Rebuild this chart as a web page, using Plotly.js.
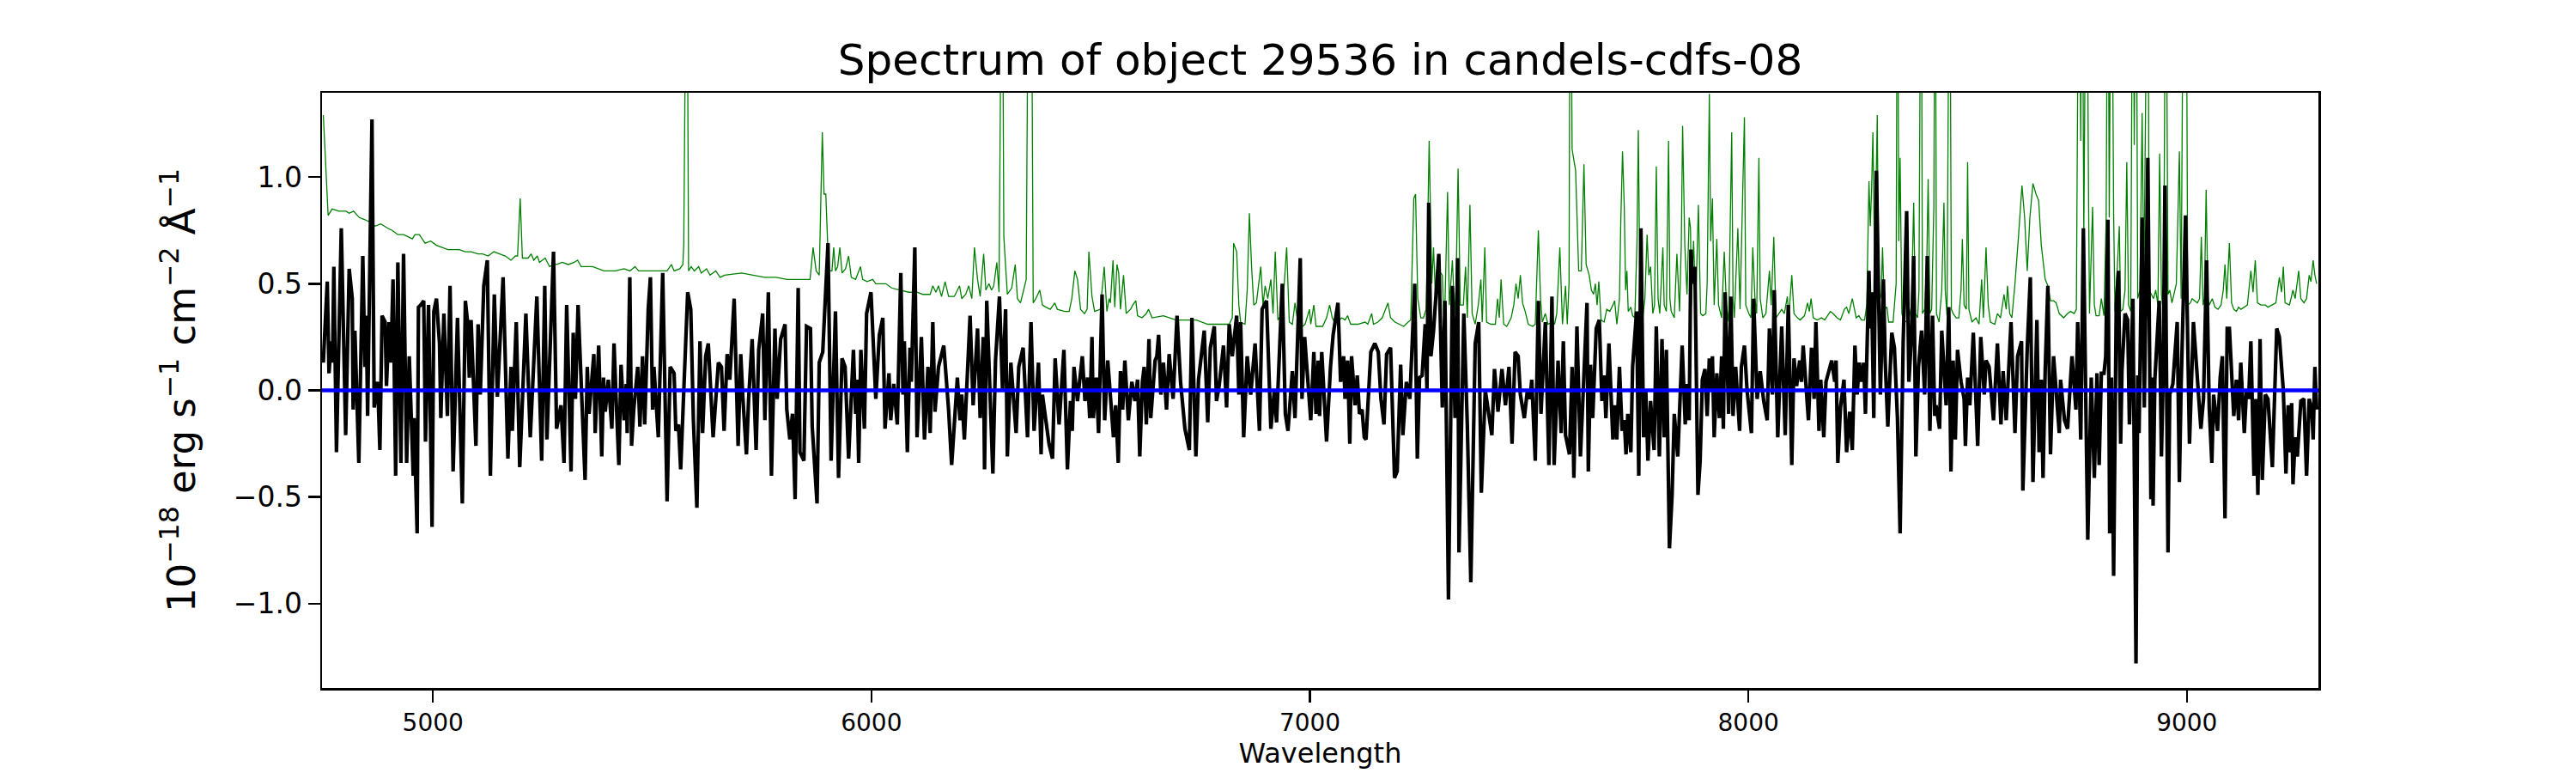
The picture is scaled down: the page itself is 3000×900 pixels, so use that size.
<!DOCTYPE html>
<html>
<head>
<meta charset="utf-8">
<script src="https://cdn.plot.ly/plotly-3.0.1.min.js"></script>
<style>html,body{margin:0;padding:0;background:#fff;}#chart{width:3000px;height:900px;}</style>
</head>
<body>
<div id="chart"></div>
<script>
// Spectrum (black) — wavelength in Angstrom, flux in 1e-18 erg/s/cm2/A
const wavelength = [
4750,4759,4763,4768,4771,4774,4780,4785,4791,4801,4809,4816,4818,4822,4831,4840,4845,4848,4851,4861,4866,4874,4879,4884,4891,4894,4900,4904,4909,4915,4920,4927,4933,4940,4946,4955,4957,4964,4967,4972,4979,4983,4990,4998,5002,5008,5015,5018,5025,5033,5039,5046,5056,5067,5074,5079,5083,5087,5098,5103,5108,5116,5124,5131,5140,5147,5160,5171,5178,5181,5190,5198,5207,5212,5222,5230,5237,5248,5255,5260,5266,5275,5282,5292,5299,5305,5315,5320,5325,5331,
5347,5352,5356,5367,5370,5378,5385,5389,5393,5400,5408,5413,5417,5424,5429,5436,5441,5443,5449,5453,5458,5467,5472,5478,5483,5491,5496,5501,5504,5514,5524,5534,5541,5550,5554,5560,5565,5573,5581,5588,5594,5602,5609,5615,5622,5628,5639,5651,5658,5664,5671,5677,5687,5696,5702,5707,5715,5720,5728,5737,5743,5752,5757,5765,5772,5780,5785,5793,5803,5807,5814,5820,5826,5833,5837,5846,5852,5861,5865,5876,5881,5889,5901,5908,
5918,5925,5933,5940,5948,5953,5959,5964,5967,5971,5976,5984,5989,5999,6010,6018,6026,6031,6040,6044,6051,6059,6067,6072,6075,6082,6088,6091,6099,6104,6114,6121,6129,6134,6140,6145,6153,6165,6176,6183,6189,6196,6202,6206,6212,6225,6232,6242,6248,6255,6258,6263,6277,6283,6292,6299,6306,6310,6318,6330,6336,6346,6356,6364,6371,6381,6387,6390,6405,6413,6419,6428,6439,6447,6454,6458,6462,6470,6481,6487,
6493,6498,6503,6506,6513,6518,6526,6532,6539,6545,6552,6557,6563,6568,6573,6578,6586,6594,6601,6607,6612,6618,6622,6627,6633,6637,6647,6651,6655,6660,6666,6673,6679,6688,6697,6705,6715,6725,6731,6740,6746,6759,6767,6773,6782,6787,6793,6803,6810,6816,6823,6833,6838,6842,6849,6857,6865,6875,6885,6891,6901,6911,6919,6924,6937,6944,6950,6960,6966,6978,6982,6988,7002,7009,7014,7019,7022,7027,7038,7047,7053,7064,
7070,7077,7080,7086,7091,7095,7103,7108,7113,7119,7124,7128,7139,7148,7156,7162,7169,7175,7184,7193,7199,7207,7212,7220,7228,7239,7245,7250,7256,7263,7267,7271,7276,7282,7294,7302,7308,7316,7325,7331,7337,7340,7351,7359,7367,7377,7385,7391,7400,7415,7421,7429,7438,7446,7454,7461,7468,7475,7480,7489,7496,7502,7506,7514,7521,7527,7537,7545,7552,7557,7566,7573,7578,7583,7592,7598,7602,7609,7617,7632,7635,7640,
7645,7653,7660,7666,7671,7675,7682,7691,7695,7700,7706,7712,7717,7721,7725,7732,7736,7745,7750,7755,7761,7766,7771,7777,7785,7790,7797,7803,7808,7813,7820,7826,7831,7839,7849,7856,7860,7865,7869,7873,7878,7885,7890,7895,7901,7906,7911,7914,7918,7922,7928,7934,7939,7943,7947,7955,7960,7965,7971,7980,7984,7991,7997,8007,8012,8020,8027,8035,8043,8048,8055,8059,8067,8076,8084,8091,8099,8104,8110,8117,8121,8125,8137,8144,8150,8154,8161,8165,8172,8177,8190,8197,8200,8204,8210,8218,
8224,8231,8237,8243,8248,8253,8258,8263,8267,8275,8278,8281,8286,8292,8301,8308,8312,8318,8327,8333,8340,8346,8353,8361,8366,8372,8377,8382,8388,8395,8402,8408,8414,8420,8425,8428,8436,8441,8451,8457,8462,8467,8472,8477,8485,8492,8495,8500,8505,8513,8523,8530,8538,8542,8549,8559,8568,8576,8581,8588,8599,8608,8614,8623,8626,8636,8643,8649,8658,8663,8668,8672,8677,8683,8689,8696,8702,8709,8712,8721,8728,8738,8747,
8751,8758,8764,8774,8782,8789,8795,8800,8805,8811,8815,8820,8824,8828,8833,8839,8844,8849,8852,8859,8865,8869,8877,8884,8888,8891,8898,8903,8911,8918,8921,8923,8927,8937,8942,8946,8950,8957,8961,8968,8978,8983,8987,8997,9006,9015,9024,9032,9038,9045,9051,9057,9061,9070,9076,9081,9087,9092,9097,9107,9113,9118,9123,9131,9136,9141,9146,9153,9157,9162,9167,9172,9179,9185,9195,9205,9211,9220,9226,9231,9236,9239,9242,9247,9252,9260,9267,9273,9279,9285,9288,9292,9296
];
const flux = [
0.13,0.51,0.08,0.23,0.13,0.58,-0.29,0.18,0.76,-0.21,0.57,0.43,-0.09,0.28,-0.34,0.63,0.11,0.35,-0.12,1.27,-0.08,0.04,-0.28,0.35,0.32,0.02,0.32,0.13,0.52,-0.40,0.60,-0.34,0.64,-0.34,0.16,-0.40,-0.13,-0.67,0.39,0.40,0.42,-0.24,0.40,-0.64,0.37,0.43,0.22,-0.13,0.36,-0.12,0.49,-0.38,0.34,-0.53,0.42,0.32,0.06,0.33,-0.26,0.31,-0.02,0.49,0.61,-0.40,0.45,-0.03,0.53,-0.32,0.11,-0.19,0.32,-0.36,0.16,0.36,-0.22,0.14,0.44,-0.33,0.49,-0.23,0.11,0.65,-0.18,-0.07,-0.34,0.40,-0.38,0.27,-0.04,0.40,
-0.42,0.11,-0.11,0.17,-0.20,0.21,-0.31,0.06,-0.10,0.05,-0.18,0.22,0.00,-0.35,0.12,-0.14,0.03,-0.20,0.53,-0.26,-0.09,0.11,-0.17,0.16,-0.16,0.38,0.53,-0.09,0.11,-0.22,0.55,-0.52,0.11,0.08,-0.19,-0.16,-0.37,0.08,0.46,0.38,-0.14,-0.55,0.23,-0.20,0.16,0.22,-0.22,0.13,0.11,-0.19,0.17,0.05,0.43,-0.26,0.17,-0.04,-0.30,-0.04,0.24,-0.28,0.19,0.36,-0.14,0.46,-0.40,0.29,-0.04,0.24,0.31,-0.09,-0.23,-0.11,-0.51,0.48,-0.29,-0.33,0.30,0.29,-0.17,-0.53,0.13,0.18,0.69,-0.33,
0.37,-0.41,0.15,0.11,-0.32,-0.08,0.19,-0.11,0.05,-0.34,0.19,-0.18,0.36,0.46,-0.04,0.26,0.34,-0.18,0.08,-0.14,0.03,-0.16,0.55,-0.02,0.23,-0.29,0.20,0.04,0.67,-0.22,0.25,-0.23,0.11,-0.20,0.32,-0.10,0.11,0.21,-0.09,-0.35,-0.14,0.06,-0.14,-0.02,-0.23,0.35,-0.07,0.29,-0.13,0.25,-0.37,0.42,-0.39,0.14,0.44,0.00,0.38,-0.31,0.13,-0.20,0.11,0.20,-0.22,0.32,-0.19,0.13,-0.30,-0.02,-0.25,-0.32,0.15,-0.16,0.19,-0.37,-0.05,-0.19,0.11,-0.05,0.16,-0.05,
0.06,-0.13,0.25,-0.13,0.06,-0.20,0.45,-0.14,0.14,-0.02,-0.22,-0.07,-0.34,0.09,-0.09,0.14,-0.14,0.04,-0.05,0.05,-0.31,0.04,0.11,-0.16,0.24,-0.13,0.14,0.16,0.26,-0.02,0.13,-0.09,0.17,-0.04,0.35,0.04,-0.18,-0.28,0.34,-0.31,0.05,0.28,-0.15,0.20,0.30,-0.05,0.02,0.21,-0.08,0.31,0.16,0.35,-0.02,0.32,-0.22,0.16,-0.02,0.22,-0.19,0.38,0.42,-0.18,0.00,-0.15,0.50,-0.11,-0.19,0.09,-0.13,0.62,-0.04,0.25,-0.14,0.18,-0.11,0.14,-0.12,0.18,-0.24,0.11,0.26,0.41,
0.04,0.16,-0.04,0.14,-0.25,0.16,-0.07,0.07,-0.11,-0.09,-0.22,-0.23,0.18,0.22,0.18,-0.04,-0.16,0.17,0.20,-0.41,-0.38,0.12,-0.21,0.04,-0.04,0.50,-0.32,0.06,0.07,0.31,0.00,0.88,0.16,0.28,0.64,-0.08,0.42,-0.98,0.49,-0.13,0.62,-0.76,0.36,-0.16,-0.90,0.22,0.32,-0.48,0.00,-0.21,0.10,-0.10,0.10,-0.07,0.11,-0.25,0.18,0.16,-0.02,-0.13,0.00,-0.04,0.05,-0.33,0.42,-0.11,0.32,-0.35,0.44,-0.35,0.14,-0.20,0.23,-0.21,-0.30,0.11,-0.41,0.30,-0.31,0.41,-0.38,0.12,
-0.13,0.29,0.33,-0.05,0.07,-0.13,0.22,-0.23,-0.07,-0.23,0.11,-0.19,-0.14,-0.30,-0.11,-0.29,0.11,0.37,-0.40,0.76,-0.22,0.00,-0.33,-0.05,-0.28,0.30,-0.31,0.24,-0.22,0.19,-0.74,-0.49,-0.11,-0.31,0.21,-0.16,0.03,-0.14,0.66,0.50,0.58,-0.49,-0.33,0.05,0.10,-0.12,0.15,0.00,0.16,-0.22,0.08,-0.13,0.16,-0.18,0.46,-0.11,0.44,-0.12,0.11,-0.19,0.11,0.21,0.00,-0.20,0.43,-0.04,0.09,-0.05,-0.14,0.29,-0.02,0.47,-0.22,0.30,-0.21,0.40,-0.35,0.15,0.02,0.14,0.04,0.21,-0.14,0.20,-0.04,0.32,-0.19,0.05,-0.22,0.04,0.14,0.04,0.14,-0.34,-0.08,0.05,
-0.29,-0.10,-0.28,0.21,-0.02,0.13,0.04,0.13,-0.11,0.56,0.29,0.46,-0.13,1.03,-0.02,0.52,0.14,-0.17,0.27,0.20,-0.13,-0.67,0.22,0.84,0.04,0.25,0.63,-0.31,0.11,0.28,-0.02,0.63,-0.19,0.35,-0.12,-0.07,-0.18,0.28,-0.07,0.39,-0.38,0.14,-0.23,0.19,0.04,-0.04,-0.26,0.06,-0.07,0.27,-0.26,0.25,-0.02,0.14,0.11,-0.14,0.22,-0.16,0.09,-0.14,0.32,-0.20,0.16,0.23,-0.47,0.20,0.53,-0.43,0.33,-0.29,0.05,-0.41,0.10,0.49,-0.30,0.16,0.00,-0.20,0.05,-0.14,-0.18,0.16,-0.09,
0.32,-0.23,0.76,-0.70,0.06,-0.41,0.08,-0.35,0.08,0.08,0.16,0.80,-0.67,0.06,-0.87,0.40,0.56,-0.25,0.09,0.36,0.33,-0.16,0.43,-1.28,0.07,-0.20,0.81,-0.08,1.09,-0.51,0.06,-0.54,0.05,0.42,-0.31,0.07,0.96,-0.76,-0.02,0.03,0.32,-0.43,0.03,0.82,-0.25,0.32,0.04,-0.18,-0.04,0.61,-0.08,-0.34,-0.02,-0.19,0.06,0.16,-0.60,0.29,0.29,-0.12,0.05,-0.14,0.13,-0.20,0.00,-0.04,0.23,-0.40,-0.04,-0.49,0.24,-0.42,-0.02,-0.04,-0.36,0.29,0.25,0.00,-0.39,-0.07,-0.29,-0.06,-0.44,-0.22,-0.31,-0.05,-0.04,-0.40,-0.04,-0.09,-0.23,0.11,-0.09
];

// Noise / sky spectrum (green) — values above the axis top are clipped sky lines
const noiseWavelength = [
4750,4761,4770,4786,4802,4809,4819,4832,4845,4855,4868,4881,4897,4907,4920,4933,4943,4953,4959,4969,4982,4995,5008,5021,5034,5047,5060,5074,5087,5103,5113,5126,5139,5152,5165,5178,5188,5193,5199,5204,5217,5224,5230,5238,5243,5256,5266,5276,5282,5295,5309,5322,5330,
5338,5364,5390,5416,5436,5449,5461,5469,5488,5521,5534,5544,5550,5563,5570,5572,5574,5579,5583,5589,5596,5606,5612,5624,5632,5645,5655,5665,5704,5730,5756,5782,5808,5834,5860,5867,5874,5881,5888,5892,5896,5900,5904,5910,
5914,5918,5923,5928,5933,5941,5948,5954,5964,5975,5980,5990,6003,6010,6033,6046,6065,6085,6104,6117,6134,6140,6147,6153,6160,6168,6176,6189,6201,6206,6215,6222,6229,6235,6242,6248,6256,6261,6268,6274,6279,6286,6291,6294,6298,6302,6306,6310,6320,6328,6333,6340,6346,6353,6359,6364,6369,6375,6384,6390,6398,6408,6418,6424,6441,6451,6457,6464,6470,6477,6486,
6492,6496,6503,6509,6522,6531,6537,6542,6545,6551,6555,6560,6564,6568,6575,6581,6591,6596,6603,6607,6617,6627,6632,6640,6666,6695,6715,6741,6767,6800,6816,6823,6826,6833,6838,6842,6852,6857,6862,6867,6872,6878,6888,6893,6898,6904,6911,6916,6921,6927,6937,6947,6953,6960,6966,6973,6983,6989,6999,7002,7009,7014,7029,7038,7045,7051,7058,7064,
7067,7073,7080,7086,7093,7109,7126,7132,7141,7145,7155,7165,7178,7184,7194,7204,7214,7224,7230,7237,7241,7246,7253,7259,7265,7267,7272,7278,7282,7287,7295,7302,7305,7308,7314,7318,7325,7330,7333,7338,7343,7350,7355,7359,7365,7370,7377,7384,7390,7393,7399,7403,7413,7423,7428,7432,7436,7442,7449,7459,7465,7470,7475,7480,7485,7491,7498,7508,7514,7521,7526,7530,7537,7543,7553,7558,7563,7570,7576,7583,7587,7591,7594,7598,7606,7613,7619,7625,7630,7637,
7642,7647,7651,7655,7659,7664,7671,7677,7684,7691,7695,7700,7706,7709,7713,7717,7720,7723,7726,7732,7736,7741,7746,7749,7753,7758,7764,7769,7773,7777,7782,7786,7790,7794,7798,7805,7808,7813,7818,7821,7824,7831,7837,7843,7847,7850,7855,7860,7865,7868,7870,7875,7880,7886,7891,7896,7903,7906,7911,7914,7918,7922,7928,7932,7939,7945,7950,7955,7962,7965,7968,7976,7981,7991,7994,8001,8006,8010,8015,8019,8024,8027,8033,8040,8048,8052,8058,8063,8069,8076,8082,8089,8092,8099,8104,8112,8118,8128,8135,8139,8143,8148,8157,8167,8174,8180,8187,8193,8202,8210,8219,
8224,8229,8237,8242,8246,8252,8258,8265,8270,8275,8278,8281,8284,8288,8291,8294,8297,8303,8306,8310,8316,8320,8330,8337,8340,8343,8346,8350,8356,8366,8372,8377,8381,8386,8389,8394,8397,8402,8407,8410,8414,8418,8423,8426,8429,8435,8441,8446,8449,8453,8459,8463,8467,8474,8480,8485,8488,8492,8497,8500,8503,8510,8519,8526,8532,8536,8542,8547,8552,8562,8568,8575,8583,8588,8591,8596,8601,8608,8616,8624,8630,8636,8642,8649,8656,8662,8668,8673,8677,8683,8689,8696,8702,8709,8719,8728,8735,8743,8748,
8754,8758,8761,8765,8771,8776,8778,8785,8789,8793,8800,8805,8811,8816,8820,8823,8828,8833,8836,8841,8846,8849,8854,8859,8863,8867,8872,8877,8880,8884,8888,8893,8898,8902,8911,8914,8919,8924,8929,8934,8938,8942,8947,8952,8957,8961,8966,8972,8976,8983,8987,8993,8998,9002,9008,9012,9017,9024,9029,9033,9037,9040,9044,9048,9051,9058,9064,9071,9078,9083,9087,9091,9097,9102,9107,9113,9118,9123,9131,9138,9146,9151,9156,9161,9169,9179,9185,9195,9203,9211,9216,9220,9224,9234,9242,9247,9255,9260,9267,9273,9279,9283,9288,9292,9296
];
const noise = [
1.29,0.82,0.85,0.84,0.84,0.83,0.84,0.81,0.80,0.79,0.77,0.78,0.76,0.75,0.73,0.73,0.72,0.71,0.73,0.73,0.69,0.70,0.68,0.67,0.66,0.66,0.66,0.65,0.65,0.64,0.64,0.63,0.65,0.64,0.63,0.61,0.63,0.63,0.90,0.62,0.62,0.64,0.61,0.63,0.60,0.62,0.58,0.59,0.59,0.60,0.59,0.60,0.61,
0.58,0.58,0.56,0.56,0.57,0.56,0.58,0.56,0.56,0.56,0.56,0.59,0.56,0.57,0.59,0.68,2.5,2.5,0.56,0.58,0.56,0.58,0.55,0.57,0.54,0.56,0.53,0.54,0.55,0.54,0.53,0.53,0.52,0.52,0.52,0.67,0.56,0.54,1.21,0.92,0.92,0.70,0.56,0.56,
0.67,0.56,0.58,0.67,0.55,0.57,0.63,0.53,0.52,0.58,0.52,0.51,0.52,0.50,0.50,0.48,0.47,0.46,0.46,0.45,0.45,0.49,0.46,0.49,0.44,0.51,0.44,0.44,0.49,0.43,0.45,0.49,0.43,0.67,0.52,0.44,0.64,0.47,0.50,0.47,0.49,0.60,0.46,2.5,2.5,0.72,0.56,0.45,0.48,0.59,0.43,0.41,0.46,0.52,2.5,2.5,0.41,0.43,0.47,0.40,0.39,0.38,0.41,0.38,0.37,0.37,0.43,0.56,0.52,0.38,0.36,
0.38,0.65,0.44,0.37,0.38,0.58,0.37,0.43,0.41,0.61,0.39,0.59,0.55,0.38,0.54,0.36,0.38,0.40,0.42,0.35,0.34,0.36,0.38,0.34,0.35,0.33,0.33,0.33,0.31,0.31,0.31,0.34,0.69,0.65,0.40,0.32,0.31,0.47,0.83,0.58,0.40,0.41,0.58,0.40,0.49,0.43,0.52,0.36,0.65,0.33,0.36,0.67,0.32,0.31,0.41,0.31,0.30,0.31,0.38,0.31,0.40,0.30,0.30,0.34,0.40,0.34,0.31,0.38,
0.33,0.34,0.33,0.35,0.31,0.31,0.32,0.31,0.36,0.31,0.32,0.34,0.41,0.34,0.32,0.31,0.30,0.32,0.33,0.90,0.92,0.43,0.34,0.34,0.38,0.56,1.17,0.50,0.67,0.40,0.56,0.54,0.36,0.40,0.93,0.40,0.61,0.36,0.47,1.04,0.40,0.40,0.58,0.34,0.87,0.36,0.31,0.40,0.52,0.32,0.67,0.32,0.31,0.31,0.43,0.34,0.52,0.31,0.30,0.34,0.40,0.50,0.43,0.54,0.41,0.37,0.31,0.30,0.31,0.75,0.43,0.32,0.36,0.31,0.32,0.31,0.36,0.67,0.31,0.49,0.31,0.50,2.5,1.13,1.03,0.56,0.56,1.06,0.59,0.54,
0.47,0.45,0.50,0.40,0.51,0.33,0.32,0.38,0.37,0.40,0.42,0.31,0.43,0.79,1.12,0.86,0.47,0.56,0.37,0.39,0.35,0.34,0.70,1.22,0.40,0.32,0.43,0.73,0.54,0.58,0.36,0.40,1.05,0.43,0.36,0.67,0.40,0.37,1.17,0.43,0.37,0.34,0.64,0.37,0.68,1.24,0.68,0.45,0.81,0.76,0.40,0.70,0.40,0.87,0.36,0.35,0.36,0.50,1.39,0.70,0.90,0.40,0.71,0.40,0.34,0.65,0.40,0.32,1.21,0.43,0.34,0.76,0.38,1.28,0.40,0.36,0.34,0.67,0.43,0.36,1.09,0.43,0.34,0.36,0.56,0.40,0.72,0.34,0.36,0.38,0.36,0.44,0.34,0.54,0.36,0.34,0.33,0.35,0.41,0.37,0.43,0.34,0.33,0.34,0.33,0.35,0.37,0.36,0.34,0.33,0.38,
0.39,0.36,0.43,0.38,0.34,0.35,0.33,0.33,0.40,0.98,0.77,0.94,1.21,0.56,0.95,1.29,0.40,0.45,0.67,0.38,0.39,0.32,0.32,0.50,2.5,0.70,1.09,0.36,0.32,0.33,0.40,0.88,0.36,0.34,0.47,2.5,0.36,0.38,0.61,0.99,0.36,0.38,0.86,2.5,0.36,0.32,0.47,0.88,0.47,0.35,2.5,0.38,0.36,0.34,0.34,0.47,0.71,0.40,0.38,1.07,0.38,0.32,0.34,0.31,0.52,0.34,0.67,0.40,0.32,0.31,0.36,0.34,0.45,0.38,0.49,0.36,0.34,0.50,0.72,0.96,0.81,0.56,0.81,0.97,0.92,0.89,0.68,0.59,0.52,0.49,0.42,0.42,0.41,0.36,0.34,0.36,0.37,0.36,0.38,
2.5,1.17,2.5,0.72,2.5,0.86,0.36,0.86,0.40,0.35,0.35,0.43,0.35,0.81,2.5,0.81,2.5,0.83,0.37,0.56,0.77,0.37,0.38,0.47,1.07,0.40,0.37,2.5,1.15,2.5,0.43,0.47,1.30,0.47,2.5,0.47,0.45,0.43,0.47,0.40,1.11,0.45,0.36,2.5,0.45,0.47,0.41,0.47,0.50,1.12,0.43,2.5,2.5,0.40,0.41,0.43,0.42,0.41,0.43,0.72,0.40,0.43,0.94,0.43,0.40,0.43,0.39,0.38,0.40,0.47,0.59,0.43,0.69,0.41,0.38,0.37,0.39,0.38,0.39,0.40,0.56,0.46,0.61,0.41,0.40,0.40,0.39,0.40,0.41,0.53,0.46,0.58,0.41,0.40,0.47,0.43,0.56,0.43,0.41,0.43,0.54,0.51,0.61,0.54,0.50
];

const zeroLevel = 0;
const xTickValues = [5000, 6000, 7000, 8000, 9000];
const xTickLabels = ['5000', '6000', '7000', '8000', '9000'];
const yTickValues = [-1.0, -0.5, 0.0, 0.5, 1.0];
const yTickLabels = ['\u22121.0', '\u22120.5', '0.0', '0.5', '1.0'];
const xRange = [4747, 9300];
const yRange = [-1.395, 1.395];

const FONT = 'DejaVu Sans, Liberation Sans, sans-serif';

const traces = [
  {x: noiseWavelength, y: noise, type: 'scatter', mode: 'lines',
   line: {color: '#008000', width: 1.3}, hoverinfo: 'skip', showlegend: false},
  {x: wavelength, y: flux, type: 'scatter', mode: 'lines',
   line: {color: '#000000', width: 4.2}, hoverinfo: 'skip', showlegend: false}
];

const layout = {
  width: 3000, height: 900,
  paper_bgcolor: '#ffffff', plot_bgcolor: '#ffffff',
  margin: {l: 375, r: 300, t: 108, b: 99, pad: 0},
  font: {family: FONT, color: '#000000'},
  title: {text: 'Spectrum of object 29536 in candels-cdfs-08',
          font: {family: FONT, size: 50, color: '#000000'},
          x: 0.5, xref: 'paper', xanchor: 'center',
          y: 1 - 69/900, yref: 'container', yanchor: 'middle'},
  xaxis: {range: xRange, tickmode: 'array', tickvals: xTickValues, ticktext: xTickLabels,
          ticks: 'outside', ticklen: 14, tickwidth: 2.5, tickcolor: '#000',
          tickfont: {family: FONT, size: 28, color: '#000'},
          showline: true, linecolor: '#000', linewidth: 2.5, mirror: true,
          showgrid: false, zeroline: false,
          title: {text: 'Wavelength', font: {family: FONT, size: 32, color: '#000'}, standoff: 6}},
  yaxis: {range: yRange, tickmode: 'array', tickvals: yTickValues, ticktext: yTickLabels,
          ticks: 'outside', ticklen: 14, tickwidth: 2.5, tickcolor: '#000',
          tickfont: {family: FONT, size: 33, color: '#000'},
          showline: true, linecolor: '#000', linewidth: 2.5, mirror: true,
          showgrid: false, zeroline: false,
          title: {text: '10<sup>\u221218</sup> erg s<sup>\u22121</sup> cm<sup>\u22122</sup> \u00c5<sup>\u22121</sup>',
                  font: {family: FONT, size: 45, color: '#000'}, standoff: 30}},
  shapes: [{type: 'line', xref: 'paper', x0: 0, x1: 1, yref: 'y', y0: zeroLevel, y1: zeroLevel,
            line: {color: '#0000ff', width: 4.5}, layer: 'above'}]
};

Plotly.newPlot('chart', traces, layout, {staticPlot: true, displayModeBar: false});
</script>
</body>
</html>
